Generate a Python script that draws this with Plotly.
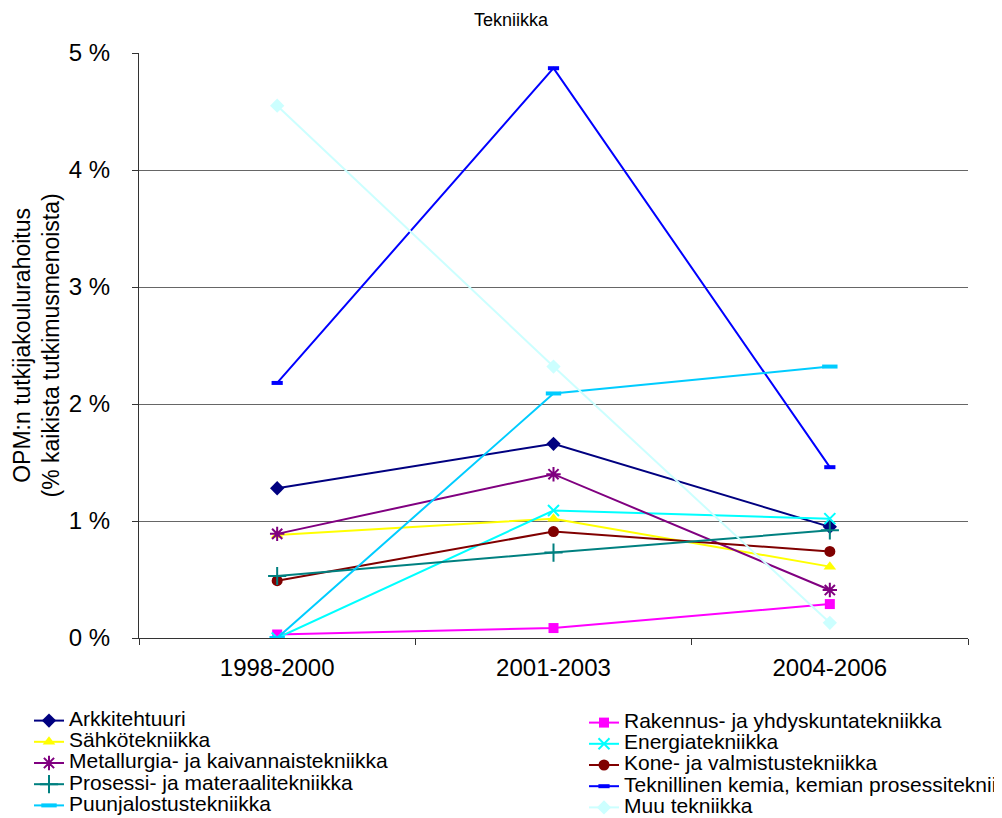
import plotly.graph_objects as go

categories = ["1998-2000", "2001-2003", "2004-2006"]
series_names = [
    "Arkkitehtuuri",
    "Rakennus- ja yhdyskuntatekniikka",
    "Sähkötekniikka",
    "Energiatekniikka",
    "Metallurgia- ja kaivannaistekniikka",
    "Kone- ja valmistustekniikka",
    "Prosessi- ja materaalitekniikka",
    "Teknillinen kemia, kemian prosessitekniikka",
    "Puunjalostustekniikka",
    "Muu tekniikka",
]
arkkitehtuuri = [1.28, 1.66, 0.95]
rakennus = [0.03, 0.085, 0.29]
sahko = [0.88, 1.02, 0.61]
energia = [0.0, 1.09, 1.02]
metallurgia = [0.89, 1.40, 0.41]
kone = [0.49, 0.91, 0.74]
prosessi = [0.53, 0.73, 0.92]
kemia = [2.18, 4.87, 1.46]
puunjalostus = [0.0, 2.09, 2.32]
muu = [4.55, 2.32, 0.13]
y_ticks = [0, 1, 2, 3, 4, 5]
y_tick_labels = ["0 %", "1 %", "2 %", "3 %", "4 %", "5 %"]

values = [arkkitehtuuri, rakennus, sahko, energia, metallurgia, kone, prosessi, kemia, puunjalostus, muu]
styles = [
    ("#000080", "diamond", 11, 0),
    ("#FF00FF", "square", 10, 0),
    ("#FFFF00", "triangle-up", 11, 0),
    ("#00FFFF", "x-thin", 11, 2),
    ("#800080", "asterisk", 12, 2),
    ("#800000", "circle", 11, 0),
    ("#008080", "cross-thin", 13, 2),
    ("#0000FF", "line-ew", 8, 4),
    ("#00CCFF", "line-ew", 11, 4),
    ("#CCFFFF", "diamond", 11, 0),
]

# page body has an 8px offset; plot area in the viewport spans x 139..968, y 53..638
OFF = 8
PL, PR, PT, PB = 139, 968, 53, 638
W, H = 1002, 818
pw, ph = PR - PL, PB - PT


def px_x(v):
    return (v - PL) / pw


def px_y(v):
    return (PB - v) / ph


fig = go.Figure()
for i, (name, vals, (col, sym, size, lw)) in enumerate(zip(series_names, values, styles)):
    fig.add_trace(go.Scatter(
        x=categories, y=vals, mode="lines+markers",
        name='<span style="font-size:21px">' + name + '</span>',
        legend="legend" if i % 2 == 0 else "legend2",
        line=dict(color=col, width=2),
        marker=dict(symbol=sym, size=size, color=col,
                    line=dict(color=col, width=lw)),
    ))

legend_common = dict(orientation="v", yanchor="top", xanchor="left",
                     font=dict(size=14, family="Liberation Sans, Arial, sans-serif", color="black"),
                     bgcolor="rgba(0,0,0,0)", borderwidth=0, tracegroupgap=0,
                     traceorder="normal")

fig.update_layout(
    width=W, height=H,
    margin=dict(l=PL - OFF, r=W + OFF - PR, t=PT - OFF, b=H + OFF - PB, autoexpand=False),
    paper_bgcolor="white", plot_bgcolor="white",
    font=dict(family="Liberation Sans, Arial, sans-serif", size=15, color="black"),
    title=dict(text="Tekniikka", x=(511 - OFF) / W, xanchor="center", xref="container",
               y=1 - (20 - OFF) / H, yanchor="middle", yref="container",
               font=dict(size=18)),
    showlegend=True,
    legend=dict(x=px_x(29), y=px_y(705), **legend_common),
    legend2=dict(x=px_x(584), y=px_y(707), **legend_common),
    xaxis=dict(
        type="category", range=[-0.5, 2.5], showgrid=False,
        showline=True, linecolor="#333", linewidth=1,
        ticks="outside", tickson="boundaries", ticklen=6, tickcolor="#333",
        tickfont=dict(size=24), ticklabelstandoff=8,
    ),
    yaxis=dict(
        range=[0, 5], tickvals=y_ticks, ticktext=y_tick_labels,
        showgrid=True, gridcolor="#666", gridwidth=1,
        showline=True, linecolor="#333", linewidth=1,
        ticks="outside", ticklen=6, tickcolor="#333", zeroline=False,
        tickfont=dict(size=24), ticklabelstandoff=17,
    ),
    annotations=[dict(
        text="OPM:n tutkijakoulurahoitus<br>(% kaikista tutkimusmenoista)",
        textangle=-90, xref="paper", yref="paper",
        x=px_x(36), y=0.5, xanchor="center", yanchor="middle",
        showarrow=False, font=dict(size=23),
    )],
)

fig.write_html("out.html")
